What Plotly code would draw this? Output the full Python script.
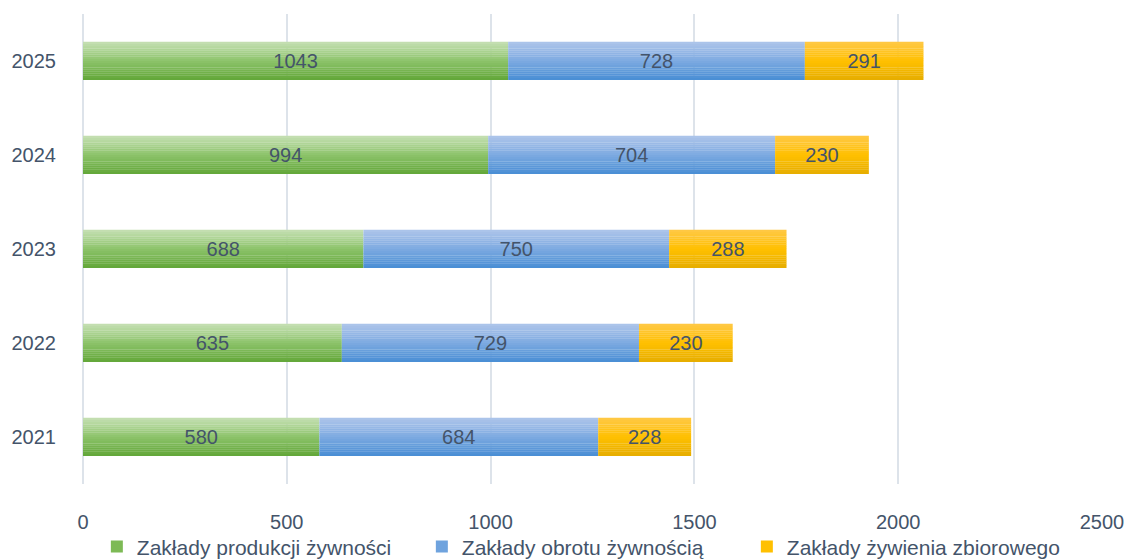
import plotly.graph_objects as go

years = ["2021", "2022", "2023", "2024", "2025"]
produkcja = [580, 635, 688, 994, 1043]
obrot = [684, 729, 750, 704, 728]
zbiorowe = [228, 230, 288, 230, 291]
series_names = ["Zakłady produkcji żywności", "Zakłady obrotu żywnością", "Zakłady żywienia zbiorowego"]
x_ticks = [0, 500, 1000, 1500, 2000, 2500]

# gradient stops (top, middle, bottom)
grads = [
    [(198, 224, 180), (140, 195, 106), (98, 166, 56)],
    [(174, 197, 234), (125, 170, 225), (72, 141, 212)],
    [(255, 200, 70), (255, 192, 0), (230, 173, 0)],
]
legend_cols = ["#7dba55", "#6fa3de", "#ffc000"]

FONT = "Liberation Sans, Arial, sans-serif"
TXT = "#44546a"
GRID = "#dde3ea"
W = 0.404
N = 18


def interp(stops, t):
    # t=0 top, t=1 bottom
    if t <= 0.5:
        a, b, u = stops[0], stops[1], t / 0.5
    else:
        a, b, u = stops[1], stops[2], (t - 0.5) / 0.5
    return "rgb(%d,%d,%d)" % tuple(round(a[i] + (b[i] - a[i]) * u) for i in range(3))


vals = [produkcja, obrot, zbiorowe]
bases = []
cum = [0] * len(years)
for v in vals:
    bases.append(list(cum))
    cum = [c + x for c, x in zip(cum, v)]

fig = go.Figure()
for s, (v, b) in enumerate(zip(vals, bases)):
    for k in range(N):
        off = -W / 2 + k * W / N
        t = 1 - (k + 0.5) / N
        fig.add_trace(go.Bar(
            y=years, x=v, base=b, orientation="h",
            offset=off, width=W / N + 0.002,
            marker=dict(color=interp(grads[s], t), line=dict(width=0)),
            showlegend=False, hoverinfo="skip",
        ))
    # legend entry
    fig.add_trace(go.Bar(
        y=[None], x=[None], orientation="h", name=series_names[s],
        marker=dict(color=legend_cols[s], line=dict(width=0)),
        showlegend=True,
    ))

for s, (v, b) in enumerate(zip(vals, bases)):
    fig.add_trace(go.Bar(
        y=years, x=v, base=b, orientation="h", width=W,
        marker=dict(color="rgba(0,0,0,0)", line=dict(width=0)),
        text=[str(x) for x in v], textposition="inside",
        insidetextanchor="middle", textangle=0, constraintext="none",
        textfont=dict(family=FONT, size=20, color=TXT),
        showlegend=False, hoverinfo="skip",
    ))

fig.update_layout(
    width=1127, height=559,
    barmode="overlay",
    paper_bgcolor="white", plot_bgcolor="white",
    margin=dict(l=83, r=25, t=14, b=75, autoexpand=False),
    font=dict(family=FONT, size=20, color=TXT),
    showlegend=True,
    legend=dict(orientation="h", x=0.492, xanchor="center", y=-0.09, yanchor="top",
                bgcolor="rgba(0,0,0,0)",
                font=dict(family=FONT, size=21, color=TXT),
                itemwidth=30, tracegroupgap=0, entrywidthmode="pixels", entrywidth=280),
    xaxis=dict(range=[0, 2500], tickvals=x_ticks, ticktext=[str(t) for t in x_ticks],
               showgrid=True, gridcolor=GRID, gridwidth=2,
               zeroline=True, zerolinecolor=GRID, zerolinewidth=2,
               showline=False, ticks="", ticklabelstandoff=24, automargin=False,
               tickfont=dict(family=FONT, size=20, color=TXT)),
    yaxis=dict(type="category", categoryorder="array", categoryarray=years,
               showgrid=False, zeroline=False, showline=False, ticks="",
               ticklabelstandoff=26, automargin=False,
               tickfont=dict(family=FONT, size=20, color=TXT)),
)

fig.write_html("out.html", config={"displayModeBar": False},
               post_script="document.body.style.margin='0';document.body.style.overflow='hidden';")
